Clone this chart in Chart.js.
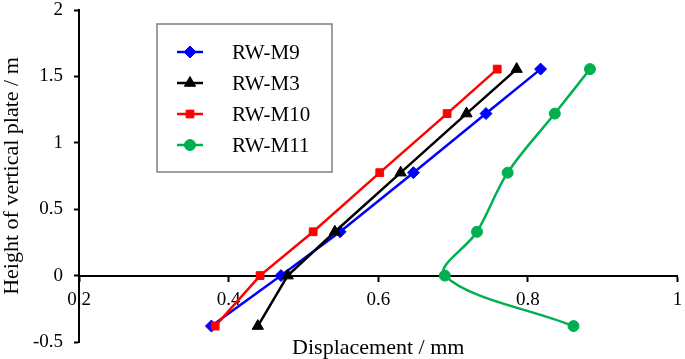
<!DOCTYPE html>
<html><head><meta charset="utf-8">
<script src="https://cdn.jsdelivr.net/npm/chart.js@4.4.1/dist/chart.umd.min.js"></script>
<style>html,body{margin:0;padding:0;background:#fff;}canvas{display:block;}</style>
</head><body>
<canvas id="c" width="685" height="359"></canvas>
<script>
const heights = [-0.38, 0, 0.33, 0.775, 1.22, 1.555];
const seriesNames = ['RW-M9', 'RW-M3', 'RW-M10', 'RW-M11'];
const dispM9  = [0.377, 0.470, 0.549, 0.647, 0.744, 0.817];
const dispM3  = [0.439, 0.479, 0.542, 0.630, 0.718, 0.785];
const dispM10 = [0.382, 0.442, 0.513, 0.602, 0.692, 0.759];
const dispM11 = [0.861, 0.689, 0.732, 0.773, 0.836, 0.883];
const xTicks = [0.2, 0.4, 0.6, 0.8, 1];
const yTicks = [-0.5, 0, 0.5, 1, 1.5, 2];
const xTitle = 'Displacement / mm';
const yTitle = 'Height of vertical plate / m';

const F = "'Liberation Serif','Times New Roman',serif";
const pts = (xs) => xs.map((x, i) => ({x: x, y: heights[i]}));

function ds(i, xs, color, style, radius, tension, order) {
  return {
    label: seriesNames[i], data: pts(xs),
    borderColor: color, backgroundColor: color,
    pointBackgroundColor: color, pointBorderColor: color,
    pointStyle: style, pointRadius: radius, pointBorderWidth: 1,
    borderWidth: 2.5, tension: tension, order: order, clip: false
  };
}

const boxLegend = {
  id: 'boxLegend',
  afterDraw(chart) {
    const ctx = chart.ctx;
    ctx.save();
    ctx.fillStyle = '#fff';
    ctx.fillRect(157, 24, 175, 148);
    ctx.strokeStyle = '#808080';
    ctx.lineWidth = 1.5;
    ctx.strokeRect(157, 24, 175, 148);
    chart.data.datasets.forEach((d, i) => {
      const y = 52 + i * 31;
      ctx.strokeStyle = d.borderColor;
      ctx.lineWidth = d.borderWidth;
      ctx.beginPath(); ctx.moveTo(177, y); ctx.lineTo(203, y); ctx.stroke();
      ctx.fillStyle = d.pointBackgroundColor;
      ctx.strokeStyle = d.pointBorderColor;
      ctx.lineWidth = 1;
      Chart.helpers.drawPoint(ctx, {pointStyle: d.pointStyle, radius: d.pointRadius, borderWidth: 1, rotation: 0}, 190, y);
      ctx.fillStyle = '#000';
      ctx.font = "21px " + F;
      ctx.textAlign = 'left';
      ctx.textBaseline = 'middle';
      ctx.fillText(d.label, 232, y + 1);
    });
    ctx.restore();
  }
};

const axisCommon = {
  grid: {display: true, drawOnChartArea: false, drawTicks: true, tickLength: 5, tickWidth: 2, tickColor: '#000'},
  border: {display: true, color: '#000', width: 2}
};

new Chart(document.getElementById('c'), {
  type: 'line',
  data: {
    datasets: [
      ds(0, dispM9, '#0000FF', 'rectRot', 6, 0, 3),
      ds(1, dispM3, '#000000', 'triangle', 6.5, 0, 2),
      ds(2, dispM10, '#FF0000', 'rect', 5.5, 0, 1),
      ds(3, dispM11, '#00B050', 'circle', 5.5, 0.35, 0)
    ]
  },
  options: {
    responsive: false,
    animation: false,
    devicePixelRatio: 1,
    layout: {padding: {left: 0, right: 6, top: 10, bottom: 17}},
    plugins: {legend: {display: false}, tooltip: {enabled: false}},
    scales: {
      x: Object.assign({}, axisCommon, {
        type: 'linear', position: {y: 0}, min: 0.2, max: 1,
        afterBuildTicks: s => { s.ticks = xTicks.map(v => ({value: v})); },
        afterFit: s => { s.paddingLeft = 0; s.paddingRight = 0; },
        ticks: {font: {family: F, size: 19, lineHeight: 1.2}, color: '#000', padding: 8, maxRotation: 0, autoSkip: false, callback: v => String(v)},
        title: {display: true, text: xTitle, font: {family: F, size: 22, lineHeight: 1.2}, color: '#000', padding: {top: 16, bottom: 0}}
      }),
      y: Object.assign({}, axisCommon, {
        type: 'linear', position: 'left', min: -0.5, max: 2,
        afterBuildTicks: s => { s.ticks = yTicks.map(v => ({value: v})); },
        afterFit: s => { s.width = 79; s.paddingTop = 0; s.paddingBottom = 0; },
        ticks: {font: {family: F, size: 19, lineHeight: 1.0}, color: '#000', padding: 11, autoSkip: false, callback: v => String(v)},
        title: {display: true, text: yTitle, font: {family: F, size: 22, lineHeight: 1.1}, color: '#000', padding: 0}
      })
    }
  },
  plugins: [boxLegend]
});
</script>
</body></html>
